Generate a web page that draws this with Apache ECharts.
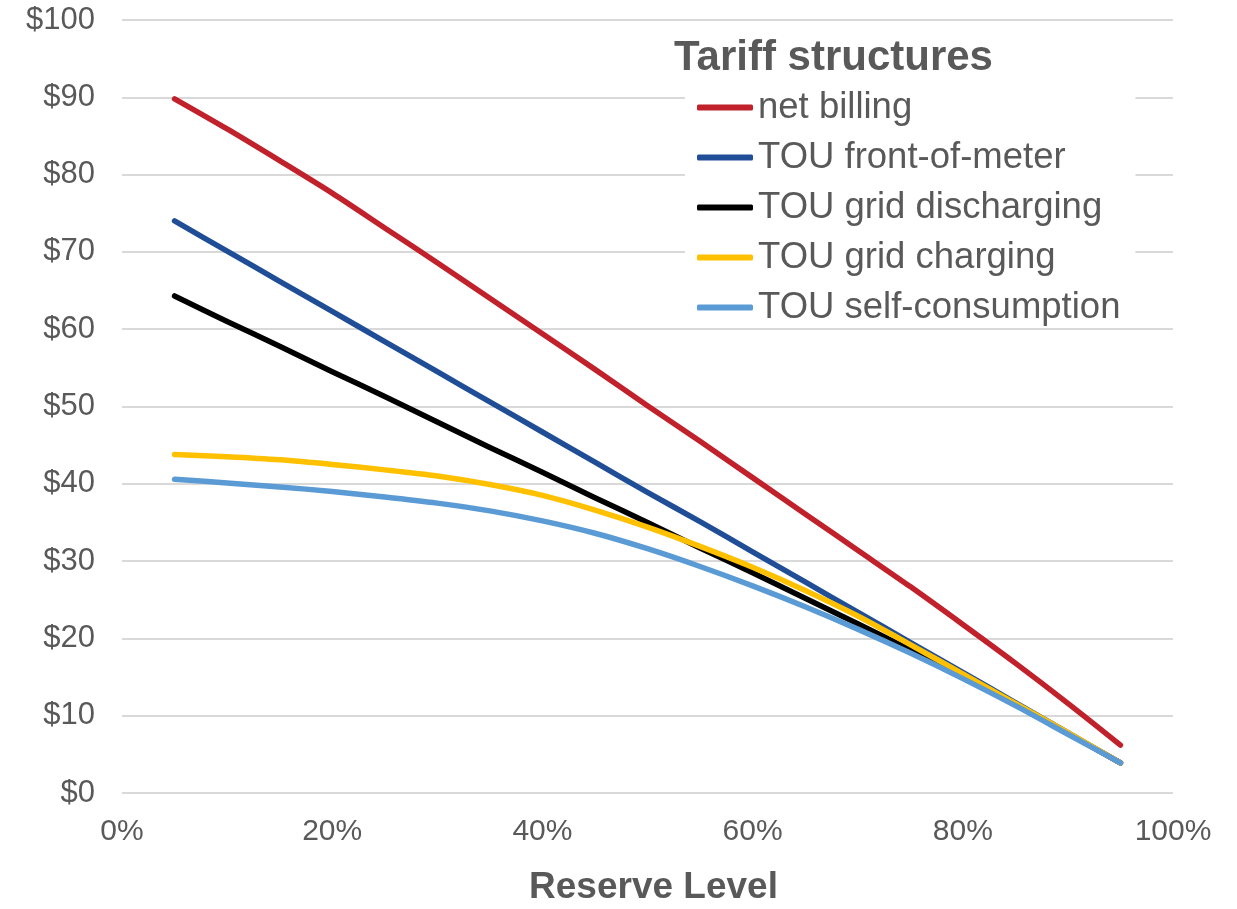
<!DOCTYPE html>
<html>
<head>
<meta charset="utf-8">
<style>
  html, body { margin: 0; padding: 0; background: #ffffff; }
  #chart { width: 1237px; height: 909px; }
</style>
<script src="https://cdn.jsdelivr.net/npm/echarts@6/dist/echarts.min.js"></script>
</head>
<body>
<div id="chart"></div>
<script>
// Reserve level (%) at which each tariff value is evaluated
const reserveLevels = [5, 10, 15, 20, 25, 30, 35, 40, 45, 50, 55, 60, 65, 70, 75, 80, 85, 90, 95];

// Value ($) per tariff structure
const netBilling      = [89.8, 85.9, 81.8, 77.6, 73.1, 68.6, 64.0, 59.4, 54.8, 50.1, 45.5, 40.8, 36.1, 31.4, 26.7, 21.8, 16.8, 11.6, 6.2];
const frontOfMeter    = [74.0, 70.1, 66.2, 62.3, 58.4, 54.5, 50.6, 46.7, 42.8, 38.9, 35.1, 31.2, 27.3, 23.4, 19.5, 15.6, 11.7, 7.8, 3.9];
const gridDischarging = [64.3, 61.0, 57.8, 54.5, 51.3, 48.0, 44.7, 41.5, 38.2, 35.0, 31.7, 28.5, 25.2, 21.9, 18.5, 15.0, 11.4, 7.7, 3.9];
const gridCharging    = [43.8, 43.5, 43.1, 42.5, 41.8, 41.0, 39.9, 38.5, 36.6, 34.4, 31.9, 29.2, 26.2, 22.9, 19.2, 15.4, 11.6, 7.8, 3.9];
const selfConsumption = [40.6, 40.1, 39.6, 39.0, 38.3, 37.5, 36.5, 35.2, 33.6, 31.6, 29.3, 26.8, 24.1, 21.2, 18.1, 14.8, 11.3, 7.6, 3.9];

const seriesNames  = ['net billing', 'TOU front-of-meter', 'TOU grid discharging', 'TOU grid charging', 'TOU self-consumption'];
const seriesValues = [netBilling, frontOfMeter, gridDischarging, gridCharging, selfConsumption];
const seriesColors = ['#C0212B', '#1F4E97', '#000000', '#FFC000', '#5B9BD5'];

const legendTitle = 'Tariff structures';
const xAxisTitle  = 'Reserve Level';

const labelColor = '#595959';
const fontFamily = '"Liberation Sans", Arial, sans-serif';

const chart = echarts.init(document.getElementById('chart'), null, { renderer: 'canvas' });

chart.setOption({
  backgroundColor: '#ffffff',
  animation: false,
  textStyle: { fontFamily: fontFamily },
  grid: { left: 122, right: 64, top: 20, bottom: 116, containLabel: false, outerBoundsMode: 'none' },
  title: {
    text: legendTitle,
    left: 674,
    top: 37,
    padding: 0,
    textStyle: { fontFamily: fontFamily, fontSize: 42, fontWeight: 'bold', color: labelColor }
  },
  legend: {
    orient: 'vertical',
    left: 685,
    top: 85,
    padding: [4, 15, 2, 12],
    backgroundColor: '#ffffff',
    itemWidth: 56,
    itemHeight: 6,
    itemGap: 13,
    icon: 'roundRect',
    data: seriesNames,
    textStyle: { fontFamily: fontFamily, fontSize: 36.5, color: labelColor, padding: [0, 0, 0, 0] }
  },
  xAxis: {
    type: 'value',
    min: 0,
    max: 100,
    interval: 20,
    name: xAxisTitle,
    nameLocation: 'middle',
    nameGap: 76,
    nameTextStyle: { fontFamily: fontFamily, fontSize: 37, fontWeight: 'bold', color: labelColor, padding: [0, 0, 0, 12] },
    axisLine: { show: false },
    axisTick: { show: false },
    splitLine: { show: false },
    axisLabel: {
      formatter: '{value}%',
      margin: 24,
      fontSize: 30,
      color: labelColor,
      fontFamily: fontFamily
    }
  },
  yAxis: {
    type: 'value',
    min: 0,
    max: 100,
    interval: 10,
    axisLine: { show: false },
    axisTick: { show: false },
    splitLine: { show: true, lineStyle: { color: '#D9D9D9', width: 2 } },
    axisLabel: {
      formatter: function (v) { return '$' + v; },
      margin: 27,
      fontSize: 31,
      color: labelColor,
      fontFamily: fontFamily
    }
  },
  series: seriesNames.map(function (name, i) {
    return {
      name: name,
      type: 'line',
      data: reserveLevels.map(function (x, j) { return [x, seriesValues[i][j]]; }),
      smooth: 0.3,
      showSymbol: false,
      symbol: 'none',
      color: seriesColors[i],
      lineStyle: { color: seriesColors[i], width: 5.5, cap: 'round', join: 'round' },
      z: 2 + i
    };
  })
});
</script>
</body>
</html>
